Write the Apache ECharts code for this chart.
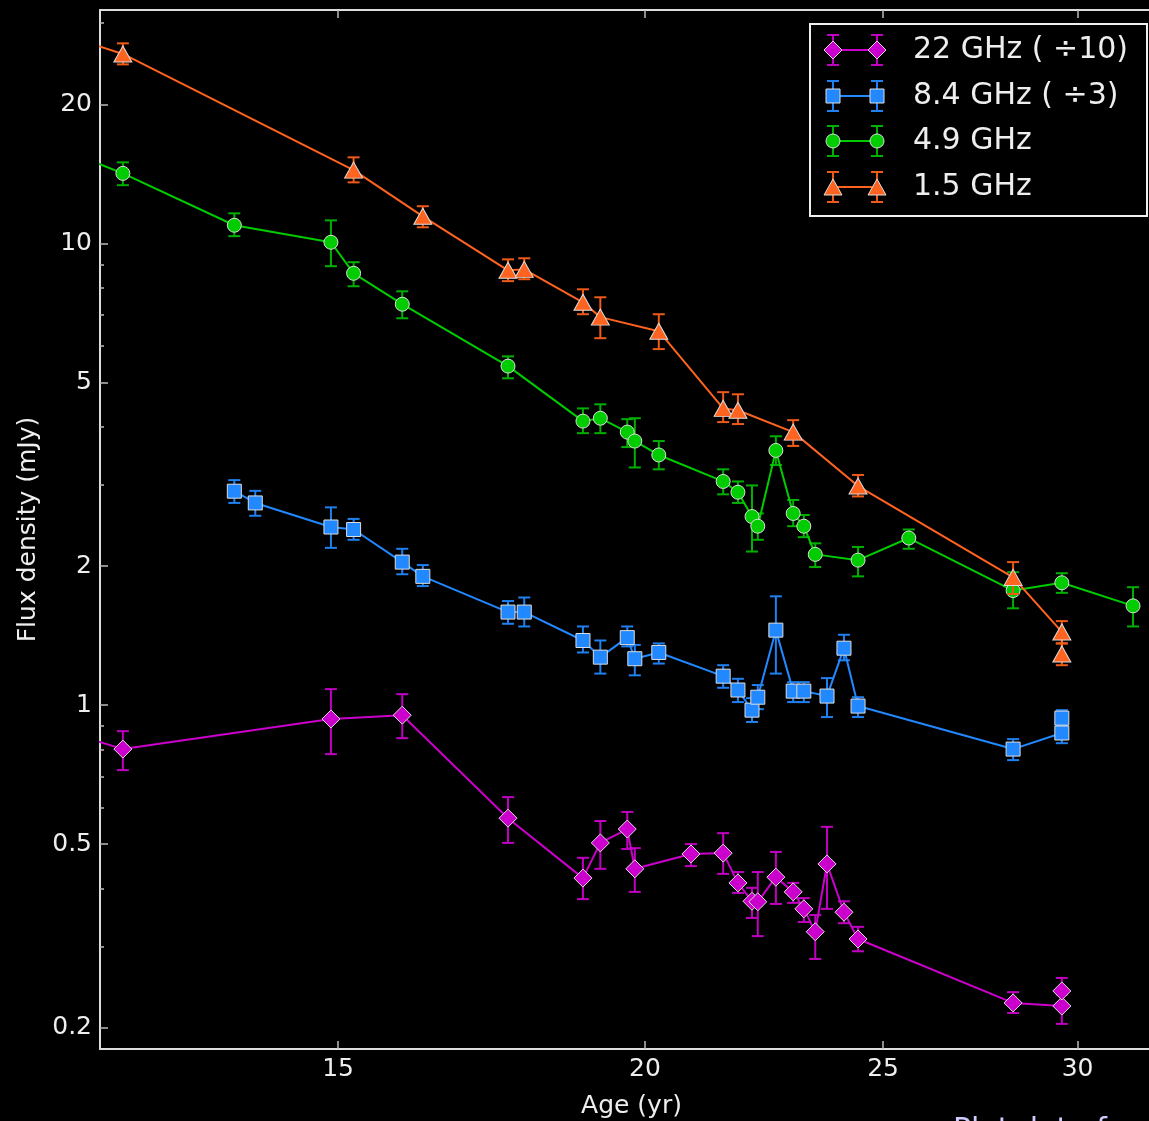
<!DOCTYPE html>
<html>
<head>
<meta charset="utf-8">
<script src="https://cdn.jsdelivr.net/npm/echarts@6/dist/echarts.min.js"></script>
<style>
html,body{margin:0;padding:0;background:#000;}
#chart{width:1149px;height:1121px;}
</style>
</head>
<body>
<div id="chart"></div>
<script>
// ---- tick labels ----
const xTicks = [15, 20, 25, 30];
const yMajorTicks = [0.2, 0.5, 1, 2, 5, 10, 20];
const yMinorTicks = [0.3, 0.4, 0.6, 0.7, 0.8, 0.9, 3, 4, 6, 7, 8, 9, 30];

// ---- 1.5 GHz ----
const age15  = [11.0, 12.26, 15.22, 16.24, 17.59, 17.86, 18.87, 19.18, 20.26, 21.52, 21.82, 22.98, 24.42, 28.24, 29.56, 29.56];
const flux15 = [31.0, 25.7, 14.4, 11.44, 8.74, 8.78, 7.45, 6.92, 6.45, 4.39, 4.35, 3.90, 2.98, 1.89, 1.44, 1.29];
const lo15   = [29.5, 24.4, 13.55, 10.83, 8.28, 8.36, 7.02, 6.23, 5.90, 4.10, 4.06, 3.64, 2.83, 1.74, 1.36, 1.22];
const hi15   = [32.5, 27.1, 15.35, 12.03, 9.23, 9.28, 7.95, 7.64, 7.02, 4.76, 4.71, 4.14, 3.15, 2.04, 1.52, 1.36];

// ---- 4.9 GHz ----
const age49  = [11.0, 12.26, 13.61, 14.90, 15.22, 15.93, 17.59, 18.87, 19.18, 19.67, 19.81, 20.26, 21.52, 21.82, 22.11, 22.23, 22.61, 22.98, 23.21, 23.46, 24.42, 25.61, 28.24, 29.56, 31.60];
const flux49 = [17.8, 14.17, 10.94, 10.05, 8.61, 7.38, 5.42, 4.12, 4.18, 3.90, 3.73, 3.48, 3.05, 2.89, 2.56, 2.44, 3.56, 2.60, 2.44, 2.12, 2.06, 2.30, 1.77, 1.84, 1.64];
const lo49   = [16.8, 13.36, 10.36, 8.92, 8.07, 6.88, 5.10, 3.88, 3.88, 3.62, 3.27, 3.24, 2.86, 2.74, 2.15, 2.28, 3.31, 2.44, 2.31, 1.99, 1.90, 2.18, 1.62, 1.75, 1.48];
const hi49   = [18.8, 14.97, 11.61, 11.21, 9.10, 7.87, 5.69, 4.39, 4.48, 4.16, 4.18, 3.73, 3.24, 3.05, 2.99, 2.60, 3.82, 2.78, 2.58, 2.24, 2.20, 2.40, 1.94, 1.93, 1.80];

// ---- 8.4 GHz (/3) ----
const age84  = [13.61, 13.88, 14.90, 15.22, 15.93, 16.24, 17.59, 17.86, 18.87, 19.18, 19.67, 19.81, 20.26, 21.52, 21.82, 22.11, 22.23, 22.61, 22.98, 23.21, 23.72, 24.10, 24.42, 28.24, 29.56, 29.56];
const flux84 = [2.905, 2.74, 2.43, 2.40, 2.04, 1.90, 1.59, 1.59, 1.38, 1.27, 1.40, 1.26, 1.30, 1.155, 1.078, 0.975, 1.04, 1.453, 1.072, 1.072, 1.046, 1.328, 0.995, 0.803, 0.870, 0.937];
const lo84   = [2.74, 2.57, 2.19, 2.28, 1.92, 1.81, 1.50, 1.48, 1.30, 1.17, 1.34, 1.16, 1.23, 1.09, 1.015, 0.919, 0.980, 1.17, 1.015, 1.015, 0.942, 1.25, 0.942, 0.760, 0.827, 0.905];
const hi84   = [3.07, 2.91, 2.68, 2.53, 2.18, 2.01, 1.68, 1.71, 1.48, 1.38, 1.48, 1.35, 1.36, 1.22, 1.14, 1.035, 1.105, 1.72, 1.121, 1.121, 1.144, 1.42, 1.04, 0.844, 0.914, 0.975];

// ---- 22 GHz (/10) ----
const age22  = [11.0, 12.26, 14.90, 15.93, 17.59, 18.87, 19.18, 19.67, 19.81, 20.88, 21.52, 21.82, 22.11, 22.23, 22.61, 22.98, 23.21, 23.46, 23.72, 24.10, 24.42, 28.24, 29.56, 29.56];
const flux22 = [0.958, 0.803, 0.933, 0.951, 0.569, 0.422, 0.503, 0.539, 0.442, 0.476, 0.478, 0.412, 0.376, 0.375, 0.424, 0.394, 0.362, 0.323, 0.453, 0.356, 0.3115, 0.2265, 0.223, 0.2404];
const lo22   = [0.90, 0.723, 0.783, 0.848, 0.503, 0.380, 0.442, 0.488, 0.394, 0.448, 0.431, 0.392, 0.346, 0.316, 0.371, 0.373, 0.339, 0.282, 0.362, 0.337, 0.293, 0.2154, 0.204, 0.226];
const hi22   = [1.02, 0.878, 1.083, 1.056, 0.632, 0.467, 0.561, 0.587, 0.490, 0.500, 0.528, 0.435, 0.402, 0.435, 0.481, 0.412, 0.382, 0.351, 0.545, 0.376, 0.331, 0.239, 0.236, 0.2565];

const seriesNames = ['22 GHz ( \u00f710)', '8.4 GHz ( \u00f73)', '4.9 GHz', '1.5 GHz'];

const FONT = 'DejaVu Sans';
const C22 = '#cc00cc', C84 = '#2288ff', C49 = '#00cc00', C15 = '#ff6320';
const E22 = '#c000c0', E84 = '#1f80f0', E49 = '#00b000', E15 = '#ee5a18';
const EDGE = '#dddddd';

const XMIN = 12, XMAX = 32.5, YMIN = 0.18, YMAX = 32;
const GRID = {left: 100, top: 10, width: 1063, height: 1039, containLabel: false, outerBoundsMode: 'none'};

function errSeries(ages, lo, hi, color, z) {
  return {
    type: 'custom', z: z, clip: true, silent: true, animation: false,
    xAxisIndex: 0, yAxisIndex: 0,
    data: ages.map((a, i) => [a, lo[i], hi[i]]),
    encode: {x: 0, y: [1, 2]},
    renderItem: function (params, api) {
      const x = api.value(0);
      const p1 = api.coord([x, api.value(1)]);
      const p2 = api.coord([x, api.value(2)]);
      const cw = 6;
      const st = {stroke: color, lineWidth: 2};
      return {type: 'group', children: [
        {type: 'line', shape: {x1: p1[0], y1: p1[1], x2: p2[0], y2: p2[1]}, style: st},
        {type: 'line', shape: {x1: p1[0] - cw, y1: p1[1], x2: p1[0] + cw, y2: p1[1]}, style: st},
        {type: 'line', shape: {x1: p2[0] - cw, y1: p2[1], x2: p2[0] + cw, y2: p2[1]}, style: st}
      ]};
    }
  };
}

function lineSeries(name, ages, flux, color, symbol, size, z) {
  return {
    name: name, type: 'line', z: z, clip: true, animation: false,
    xAxisIndex: 0, yAxisIndex: 0,
    data: ages.map((a, i) => [a, flux[i]]),
    symbol: symbol, symbolSize: size, showAllSymbol: true,
    lineStyle: {color: color, width: 2},
    itemStyle: {color: color, borderColor: EDGE, borderWidth: 1},
    emphasis: {disabled: true}
  };
}

const axisLineStyle = {color: '#dddddd', width: 2};
const tickStyle = {color: '#bbbbbb', width: 1.5};
const labelStyle = {color: '#eeeeee', fontSize: 25, fontFamily: FONT};

// ---- legend (graphic) ----
const legendRows = [50, 96, 141, 187];
const legendColors = [C22, C84, C49, C15];
const legendErr = [E22, E84, E49, E15];
const legendShapes = ['diamond', 'square', 'circle', 'triangle'];
const LX1 = 833, LX2 = 877, LTX = 913;

function markerGraphic(shape, x, y, color) {
  const style = {fill: color, stroke: EDGE, lineWidth: 1};
  if (shape === 'diamond') return {type: 'polygon', shape: {points: [[x, y - 9], [x + 9, y], [x, y + 9], [x - 9, y]]}, style};
  if (shape === 'square') return {type: 'rect', shape: {x: x - 7, y: y - 7, width: 14, height: 14}, style};
  if (shape === 'circle') return {type: 'circle', shape: {cx: x, cy: y, r: 7}, style};
  return {type: 'polygon', shape: {points: [[x, y - 8], [x + 9, y + 8], [x - 9, y + 8]]}, style};
}

const legendChildren = [
  {type: 'rect', shape: {x: 810, y: 24, width: 337, height: 192}, style: {fill: '#000', stroke: '#eeeeee', lineWidth: 2}}
];
legendRows.forEach((y, i) => {
  const c = legendColors[i], e = legendErr[i];
  const est = {stroke: e, lineWidth: 2};
  legendChildren.push({type: 'line', shape: {x1: LX1, y1: y, x2: LX2, y2: y}, style: {stroke: c, lineWidth: 2}});
  [LX1, LX2].forEach(x => {
    legendChildren.push({type: 'line', shape: {x1: x, y1: y - 15, x2: x, y2: y + 15}, style: est});
    legendChildren.push({type: 'line', shape: {x1: x - 6, y1: y - 15, x2: x + 6, y2: y - 15}, style: est});
    legendChildren.push({type: 'line', shape: {x1: x - 6, y1: y + 15, x2: x + 6, y2: y + 15}, style: est});
    legendChildren.push(markerGraphic(legendShapes[i], x, y, c));
  });
  legendChildren.push({type: 'text', x: LTX, y: y, style: {text: seriesNames[i], fill: '#eeeeee', fontSize: 30, fontFamily: FONT, verticalAlign: 'middle', align: 'left'}});
});

const chart = echarts.init(document.getElementById('chart'), null, {renderer: 'canvas'});
chart.setOption({
  backgroundColor: '#000000',
  animation: false,
  grid: [
    Object.assign({}, GRID),
    Object.assign({}, GRID)
  ],
  xAxis: [
    {
      type: 'log', logBase: 10, min: XMIN, max: XMAX, gridIndex: 0, position: 'bottom',
      axisLine: {show: true, lineStyle: axisLineStyle},
      axisTick: {show: true, inside: true, length: 8, customValues: xTicks, lineStyle: tickStyle},
      axisLabel: Object.assign({show: true, customValues: xTicks, margin: 8}, labelStyle),
      splitLine: {show: false}, minorTick: {show: false}, minorSplitLine: {show: false},
      name: 'Age (yr)', nameLocation: 'middle', nameGap: 45,
      nameTextStyle: {color: '#eeeeee', fontSize: 25, fontFamily: FONT}
    },
    {
      type: 'log', logBase: 10, min: XMIN, max: XMAX, gridIndex: 0, position: 'top',
      axisLine: {show: true, lineStyle: axisLineStyle},
      axisTick: {show: true, inside: true, length: 8, customValues: xTicks, lineStyle: tickStyle},
      axisLabel: {show: false}, splitLine: {show: false}
    },
    {
      type: 'log', logBase: 10, min: XMIN, max: XMAX, gridIndex: 1, show: false
    }
  ],
  yAxis: [
    {
      type: 'log', logBase: 10, min: YMIN, max: YMAX, gridIndex: 0, position: 'left',
      axisLine: {show: true, lineStyle: axisLineStyle},
      axisTick: {show: true, inside: true, length: 8, customValues: yMajorTicks, lineStyle: tickStyle},
      axisLabel: Object.assign({show: true, customValues: yMajorTicks, margin: 8}, labelStyle),
      splitLine: {show: false}, minorTick: {show: false}, minorSplitLine: {show: false},
      name: 'Flux density (mJy)', nameLocation: 'middle', nameGap: 58, nameRotate: 90,
      nameTextStyle: {color: '#eeeeee', fontSize: 25, fontFamily: FONT}
    },
    {
      type: 'log', logBase: 10, min: YMIN, max: YMAX, gridIndex: 1, position: 'left',
      axisLine: {show: false},
      axisTick: {show: true, inside: true, length: 4, customValues: yMinorTicks, lineStyle: tickStyle},
      axisLabel: {show: false}, splitLine: {show: false}
    }
  ],
  series: [
    errSeries(age22, lo22, hi22, E22, 1),
    lineSeries(seriesNames[0], age22, flux22, C22, 'diamond', [18, 18], 2),
    errSeries(age84, lo84, hi84, E84, 3),
    lineSeries(seriesNames[1], age84, flux84, C84, 'rect', [14, 14], 4),
    errSeries(age49, lo49, hi49, E49, 5),
    lineSeries(seriesNames[2], age49, flux49, C49, 'circle', 14, 6),
    errSeries(age15, lo15, hi15, E15, 7),
    lineSeries(seriesNames[3], age15, flux15, C15, 'triangle', [18, 16], 8)
  ],
  graphic: [
    {type: 'group', z: 100, children: legendChildren},
    {type: 'text', x: 953, y: 1116, z: 100, style: {text: 'Plot data from', fill: '#ccccff', fontSize: 30, fontFamily: FONT}}
  ]
});
</script>
</body>
</html>
